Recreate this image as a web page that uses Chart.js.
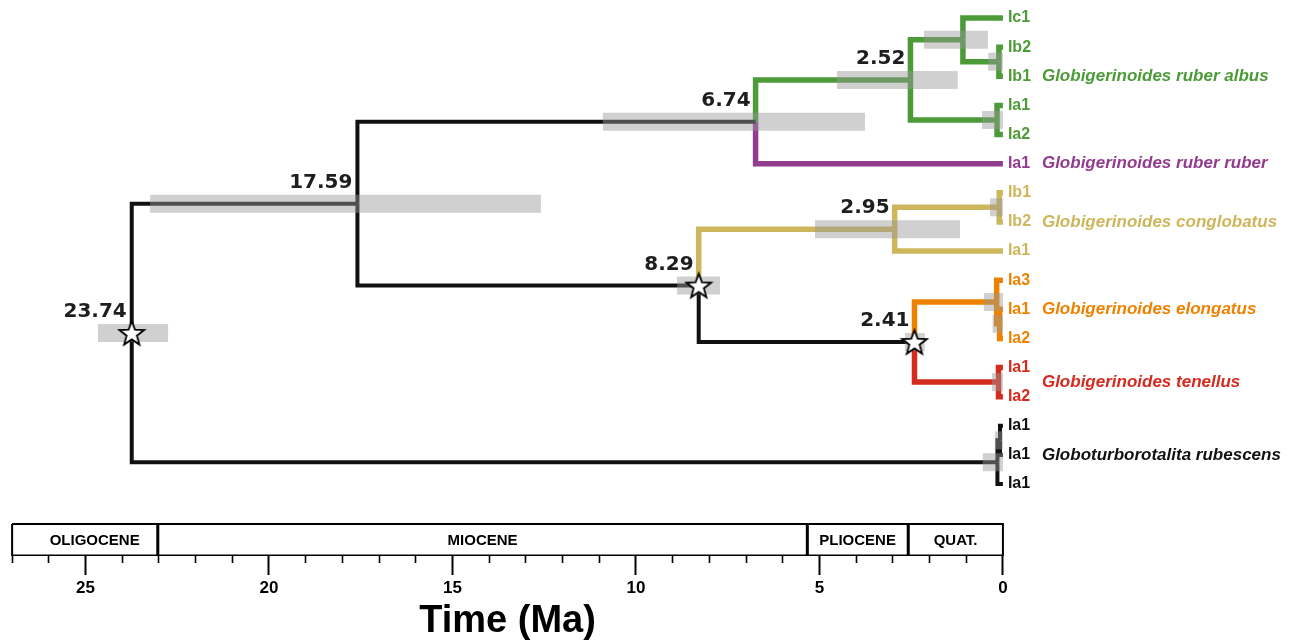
<!DOCTYPE html>
<html>
<head>
<meta charset="utf-8">
<title>Globigerinoides time tree</title>
<script src="https://cdn.jsdelivr.net/npm/chart.js@4.4.1/dist/chart.umd.min.js"></script>
<style>
  html, body { margin: 0; padding: 0; background: #fff; }
  #wrap { width: 1302px; height: 641px; position: relative; }
</style>
</head>
<body>
<div id="wrap"><canvas id="tree"></canvas></div>
<script>
// Tips, top to bottom (row = index)
const tipLabels = ['Ic1', 'Ib2', 'Ib1', 'Ia1', 'Ia2', 'Ia1', 'Ib1', 'Ib2', 'Ia1',
                   'Ia3', 'Ia1', 'Ia2', 'Ia1', 'Ia2', 'Ia1', 'Ia1', 'Ia1'];
const tipClade = [0, 0, 0, 0, 0, 1, 2, 2, 2, 3, 3, 3, 4, 4, 5, 5, 5];

// Clades
const cladeNames = ['Globigerinoides ruber albus', 'Globigerinoides ruber ruber',
                    'Globigerinoides conglobatus', 'Globigerinoides elongatus',
                    'Globigerinoides tenellus', 'Globoturborotalita rubescens'];
const cladeLabelRow = [2, 5, 7, 10, 12.5, 15];
const cladeColors = ['#4d9a38', '#923c8f', '#cdb65c', '#ee8200', '#d52b1e', '#111111'];

// Internal nodes: age (Ma), 95% HPD, children (numbers = nodes, 't#' = tips)
const nodeAges = [23.74, 17.59, 6.74, 2.52, 1.09, 0.11, 0.16, 8.29, 2.95, 0.10, 2.41, 0.17, 0.09, 0.12, 0.15, 0.08];
const nodeHpd = [[24.66, 22.75], [23.24, 12.59], [10.90, 3.76], [4.52, 1.23], [2.15, 0.41],
                 [0.40, 0], [0.57, 0], [8.88, 7.71], [5.12, 1.17], [0.35, 0], [2.67, 2.13],
                 [0.52, 0], [0.28, 0], [0.30, 0], [0.55, 0], [0.22, 0]];
const nodeChildren = [[1, 14], [2, 7], [3, 't5'], [4, 6], ['t0', 5], ['t1', 't2'], ['t3', 't4'],
                      [8, 10], [9, 't8'], ['t6', 't7'], [11, 13], ['t9', 12], ['t10', 't11'],
                      ['t12', 't13'], [15, 't16'], ['t14', 't15']];
const starNodes = [0, 7, 10];

// Time axis and epochs
const tickValues = [27, 26, 25, 24, 23, 22, 21, 20, 19, 18, 17, 16, 15, 14, 13, 12, 11, 10,
                    9, 8, 7, 6, 5, 4, 3, 2, 1, 0];
const epochNames = ['OLIGOCENE', 'MIOCENE', 'PLIOCENE', 'QUAT.'];
const epochStart = [27, 23.03, 5.33, 2.58];
const epochEnd = [23.03, 5.33, 2.58, 0];
const epochLabelAt = [24.75, 14.18, 3.96, 1.29];

// Layout (scale ranges)
const X_MIN = -8.15, X_MAX = 27.33;
const Y_MIN = -0.618, Y_MAX = 18.47;
const BOX_TOP = 17.37, BOX_BOTTOM = 18.45;
const BLACK = '#111111';
const BAR_GREY = 'rgba(152,152,152,0.46)';

// Helpers
const isTip = c => typeof c === 'string';
const tipRow = c => +c.slice(1);

const nodeRow = [];
function layout(i) {
  const rows = nodeChildren[i].map(c => isTip(c) ? tipRow(c) : layout(c));
  nodeRow[i] = (Math.min(...rows) + Math.max(...rows)) / 2;
  return nodeRow[i];
}
layout(0);

function tipsUnder(c) {
  return isTip(c) ? [tipRow(c)] : nodeChildren[c].flatMap(tipsUnder);
}
function colorOf(c) {
  const cl = [...new Set(tipsUnder(c).map(t => tipClade[t]))];
  return cl.length === 1 ? cladeColors[cl[0]] : BLACK;
}

const lineBase = { showLine: true, pointRadius: 0, borderCapStyle: 'butt', borderJoinStyle: 'miter', tension: 0, fill: false };

// Branches: vertical from parent, then horizontal to child
const branchSets = [];
nodeChildren.forEach((kids, i) => {
  kids.forEach(c => {
    const row = isTip(c) ? tipRow(c) : nodeRow[c];
    const age = isTip(c) ? 0 : nodeAges[c];
    const col = colorOf(c);
    branchSets.push({
      ...lineBase,
      data: [{ x: nodeAges[i], y: nodeRow[i] }, { x: nodeAges[i], y: row }, { x: age, y: row }],
      borderColor: col,
      borderWidth: col === BLACK ? 4 : 5.5,
      order: 3,
    });
  });
});

// HPD bars
const hpdSets = nodeHpd.map((h, i) => ({
  ...lineBase,
  data: [{ x: h[0], y: nodeRow[i] }, { x: h[1], y: nodeRow[i] }],
  borderColor: BAR_GREY,
  borderWidth: 18,
  order: 2,
}));

// Epoch box
const epochSets = [{
  ...lineBase,
  data: [{ x: epochStart[0], y: BOX_TOP }, { x: 0, y: BOX_TOP }, { x: 0, y: BOX_BOTTOM },
         { x: epochStart[0], y: BOX_BOTTOM }, { x: epochStart[0], y: BOX_TOP }],
  borderColor: '#000', borderWidth: 2, order: 4,
}].concat(epochEnd.slice(0, 3).map(b => ({
  ...lineBase,
  data: [{ x: b, y: BOX_TOP }, { x: b, y: BOX_BOTTOM }],
  borderColor: '#000', borderWidth: 3, order: 4,
})));

// Star marker
function makeStar() {
  const c = document.createElement('canvas');
  c.width = 30; c.height = 30;
  const g = c.getContext('2d');
  g.beginPath();
  for (let k = 0; k < 10; k++) {
    const r = k % 2 === 0 ? 13 : 5.4;
    const a = -Math.PI / 2 + k * Math.PI / 5;
    const px = 15 + r * Math.cos(a), py = 16 + r * Math.sin(a);
    k === 0 ? g.moveTo(px, py) : g.lineTo(px, py);
  }
  g.closePath();
  g.fillStyle = '#fff';
  g.fill();
  g.lineWidth = 1.8;
  g.strokeStyle = '#000';
  g.lineJoin = 'miter';
  g.stroke();
  return c;
}

const starSet = {
  data: starNodes.map(i => ({ x: nodeAges[i], y: nodeRow[i] })),
  showLine: false,
  pointStyle: makeStar(),
  pointRadius: 13,
  order: 1,
};

// Text: node ages, tip labels, species names, epochs, axis title
const textPlugin = {
  id: 'treeText',
  afterDatasetsDraw(chart) {
    const { ctx, scales: { x, y } } = chart;
    ctx.save();
    ctx.textBaseline = 'middle';

    ctx.font = 'bold 20px "DejaVu Sans"';
    ctx.fillStyle = '#1e1e1e';
    ctx.textAlign = 'right';
    nodeAges.forEach((a, i) => {
      if (a < 2) return;
      ctx.fillText(a.toFixed(2), x.getPixelForValue(a) - 5, y.getPixelForValue(nodeRow[i]) - 21);
    });

    const x0 = x.getPixelForValue(0);
    ctx.textAlign = 'left';
    ctx.font = 'bold 16px "Liberation Sans", Arial, sans-serif';
    tipLabels.forEach((t, i) => {
      ctx.fillStyle = cladeColors[tipClade[i]];
      ctx.fillText(t, x0 + 5, y.getPixelForValue(i));
    });

    ctx.font = 'italic bold 17px "Liberation Sans", Arial, sans-serif';
    cladeNames.forEach((n, k) => {
      ctx.fillStyle = cladeColors[k];
      ctx.fillText(n, x0 + 39, y.getPixelForValue(cladeLabelRow[k]));
    });

    ctx.fillStyle = '#000';
    ctx.textAlign = 'center';
    ctx.font = 'bold 15px "Liberation Sans", Arial, sans-serif';
    const boxMid = y.getPixelForValue((BOX_TOP + BOX_BOTTOM) / 2);
    epochNames.forEach((n, k) => ctx.fillText(n, x.getPixelForValue(epochLabelAt[k]), boxMid + 1));

    ctx.font = 'bold 38px "Liberation Sans", Arial, sans-serif';
    ctx.fillText('Time (Ma)', x.getPixelForValue(13.5), x.bottom - 19);
    ctx.restore();
  },
};

new Chart(document.getElementById('tree'), {
  type: 'scatter',
  data: { datasets: [starSet, ...hpdSets, ...branchSets, ...epochSets] },
  options: {
    responsive: true,
    maintainAspectRatio: false,
    animation: false,
    layout: { padding: 0, autoPadding: false },
    plugins: { legend: { display: false }, tooltip: { enabled: false } },
    scales: {
      x: {
        type: 'linear',
        reverse: true,
        min: X_MIN,
        max: X_MAX,
        afterBuildTicks: s => { s.ticks = tickValues.map(v => ({ value: v })); },
        afterFit: s => { s.height = 85; },
        border: { display: false },
        grid: {
          drawOnChartArea: false,
          drawTicks: true,
          tickLength: 19,
          tickColor: '#000',
          tickWidth: ctx => ctx.tick && ctx.tick.value % 5 === 0 ? 2 : 1.6,
          tickBorderDash: ctx => ctx.tick && ctx.tick.value % 5 === 0 ? [] : [7, 40],
        },
        ticks: {
          autoSkip: false,
          maxRotation: 0,
          padding: 3,
          color: '#000',
          font: { family: '"Liberation Sans", Arial, sans-serif', size: 17, weight: 'bold' },
          callback: v => (v % 5 === 0 ? String(v) : ''),
        },
      },
      y: { type: 'linear', display: false, reverse: true, min: Y_MIN, max: Y_MAX },
    },
  },
  plugins: [textPlugin],
});
</script>
</body>
</html>
